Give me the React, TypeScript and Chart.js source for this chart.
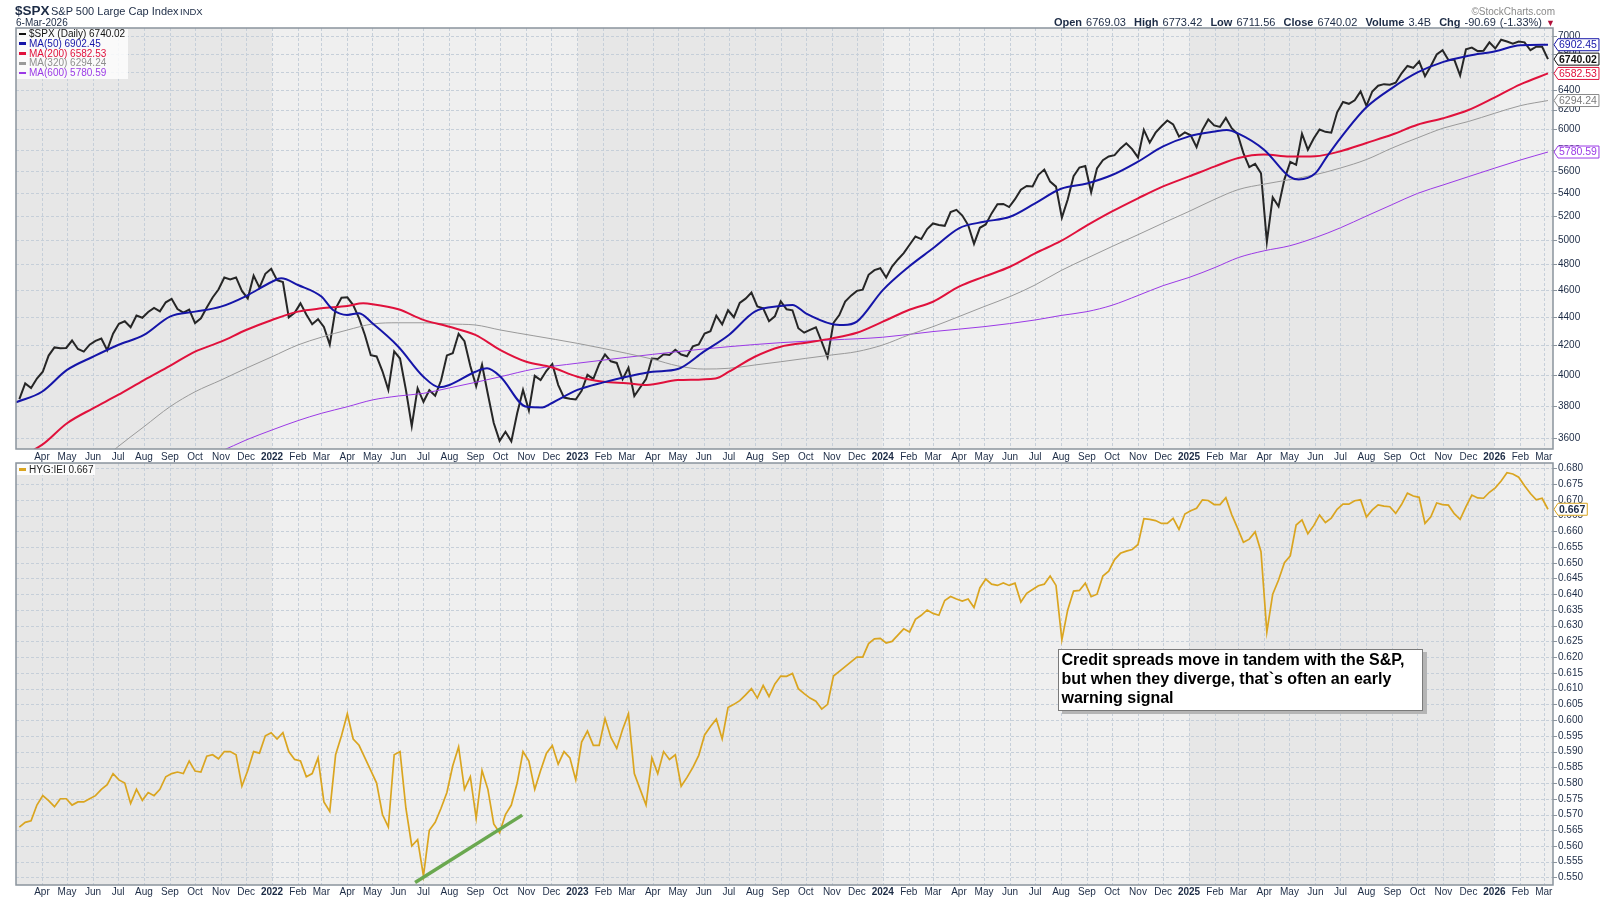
import React, { useEffect, useRef } from "react";
import { Chart, registerables } from "chart.js";

Chart.register(...registerables);

const FONT = '"Liberation Sans", Arial, Helvetica, sans-serif';
const NAVY = "#1c2b45";
const GRID_COLOR = "#c6cfd9";
const BORDER_COLOR = "#8b949d";
const BAND_COLORS = ["#e7e7e7", "#efefef"];

// ---------------- categories ----------------
const WEEK_DATES = [
  "2021-03-05","2021-03-12","2021-03-19","2021-03-26","2021-04-02","2021-04-09","2021-04-16","2021-04-23","2021-04-30","2021-05-07","2021-05-14","2021-05-21","2021-05-28","2021-06-04","2021-06-11","2021-06-18","2021-06-25","2021-07-02","2021-07-09","2021-07-16","2021-07-23","2021-07-30","2021-08-06","2021-08-13","2021-08-20","2021-08-27","2021-09-03","2021-09-10","2021-09-17","2021-09-24","2021-10-01","2021-10-08","2021-10-15","2021-10-22","2021-10-29","2021-11-05","2021-11-12","2021-11-19","2021-11-26","2021-12-03","2021-12-10","2021-12-17","2021-12-24","2021-12-31",
  "2022-01-07","2022-01-14","2022-01-21","2022-01-28","2022-02-04","2022-02-11","2022-02-18","2022-02-25","2022-03-04","2022-03-11","2022-03-18","2022-03-25","2022-04-01","2022-04-08","2022-04-15","2022-04-22","2022-04-29","2022-05-06","2022-05-13","2022-05-20","2022-05-27","2022-06-03","2022-06-10","2022-06-17","2022-06-24","2022-07-01","2022-07-08","2022-07-15","2022-07-22","2022-07-29","2022-08-05","2022-08-12","2022-08-19","2022-08-26","2022-09-02","2022-09-09","2022-09-16","2022-09-23","2022-09-30","2022-10-07","2022-10-14","2022-10-21","2022-10-28","2022-11-04","2022-11-11","2022-11-18","2022-11-25","2022-12-02","2022-12-09","2022-12-16","2022-12-23","2022-12-30",
  "2023-01-06","2023-01-13","2023-01-20","2023-01-27","2023-02-03","2023-02-10","2023-02-17","2023-02-24","2023-03-03","2023-03-10","2023-03-17","2023-03-24","2023-03-31","2023-04-07","2023-04-14","2023-04-21","2023-04-28","2023-05-05","2023-05-12","2023-05-19","2023-05-26","2023-06-02","2023-06-09","2023-06-16","2023-06-23","2023-06-30","2023-07-07","2023-07-14","2023-07-21","2023-07-28","2023-08-04","2023-08-11","2023-08-18","2023-08-25","2023-09-01","2023-09-08","2023-09-15","2023-09-22","2023-09-29","2023-10-06","2023-10-13","2023-10-20","2023-10-27","2023-11-03","2023-11-10","2023-11-17","2023-11-24","2023-12-01","2023-12-08","2023-12-15","2023-12-22","2023-12-29",
  "2024-01-05","2024-01-12","2024-01-19","2024-01-26","2024-02-02","2024-02-09","2024-02-16","2024-02-23","2024-03-01","2024-03-08","2024-03-15","2024-03-22","2024-03-29","2024-04-05","2024-04-12","2024-04-19","2024-04-26","2024-05-03","2024-05-10","2024-05-17","2024-05-24","2024-05-31","2024-06-07","2024-06-14","2024-06-21","2024-06-28","2024-07-05","2024-07-12","2024-07-19","2024-07-26","2024-08-02","2024-08-09","2024-08-16","2024-08-23","2024-08-30","2024-09-06","2024-09-13","2024-09-20","2024-09-27","2024-10-04","2024-10-11","2024-10-18","2024-10-25","2024-11-01","2024-11-08","2024-11-15","2024-11-22","2024-11-29","2024-12-06","2024-12-13","2024-12-20","2024-12-27",
  "2025-01-03","2025-01-10","2025-01-17","2025-01-24","2025-01-31","2025-02-07","2025-02-14","2025-02-21","2025-02-28","2025-03-07","2025-03-14","2025-03-21","2025-03-28","2025-04-04","2025-04-11","2025-04-18","2025-04-25","2025-05-02","2025-05-09","2025-05-16","2025-05-23","2025-05-30","2025-06-06","2025-06-13","2025-06-20","2025-06-27","2025-07-04","2025-07-11","2025-07-18","2025-07-25","2025-08-01","2025-08-08","2025-08-15","2025-08-22","2025-08-29","2025-09-05","2025-09-12","2025-09-19","2025-09-26","2025-10-03","2025-10-10","2025-10-17","2025-10-24","2025-10-31","2025-11-07","2025-11-14","2025-11-21","2025-11-28","2025-12-05","2025-12-12","2025-12-19","2025-12-26",
  "2026-01-02","2026-01-09","2026-01-16","2026-01-23","2026-01-30","2026-02-06","2026-02-13","2026-02-20","2026-02-27","2026-03-06"
];

// ---------------- series values ----------------
const SPX_CLOSE = [
  3842,3943,3913,3975,4020,4129,4185,4180,4181,4233,4174,4156,4204,4230,4247,4166,4281,4352,4370,4327,4412,4395,4437,4468,4442,4509,4535,4459,4433,4455,4357,4391,4471,4545,4605,4697,4682,4698,4595,4538,4712,4620,4726,4766,
  4677,4663,4398,4432,4501,4419,4349,4385,4329,4204,4463,4543,4546,4488,4393,4272,4132,4123,4023,3901,4158,4109,3901,3675,3912,3825,3899,3863,3962,4130,4145,4280,4228,4058,3924,4067,3873,3693,3586,3640,3583,3753,3901,3771,3993,3965,4026,4072,3934,3852,3845,3840,
  3895,3999,3973,4071,4136,4090,4079,3970,4046,3862,3917,3971,4109,4105,4138,4133,4169,4136,4124,4192,4205,4282,4299,4410,4348,4450,4399,4505,4536,4582,4478,4464,4370,4406,4516,4457,4450,4320,4288,4308,4327,4224,4117,4358,4415,4514,4559,4595,4604,4719,4755,4770,
  4697,4784,4840,4891,4959,5027,5006,5089,5137,5124,5117,5234,5254,5204,5123,4967,5100,5128,5223,5303,5305,5278,5347,5432,5465,5460,5567,5615,5505,5459,5186,5344,5554,5634,5648,5408,5626,5703,5738,5751,5815,5864,5808,5729,5996,5871,5969,6032,6090,6051,5931,5971,
  5942,5827,5997,6101,6041,6026,6115,6013,5955,5770,5639,5668,5581,4983,5363,5283,5525,5687,5660,5958,5803,5912,6000,5977,5968,6173,6279,6260,6297,6389,6238,6389,6450,6467,6460,6482,6584,6664,6644,6716,6553,6664,6792,6840,6730,6735,6560,6850,6870,6830,6835,6930,
  6860,6960,6940,6915,6940,6930,6840,6880,6880,6740.02
];

const HYG_IEI = [
  0.566,0.5675,0.568,0.573,0.576,0.5744,0.5725,0.575,0.575,0.573,0.574,0.574,0.575,0.576,0.578,0.5795,0.583,0.581,0.58,0.5735,0.578,0.5745,0.577,0.576,0.578,0.582,0.583,0.5835,0.583,0.587,0.5838,0.5835,0.5885,0.589,0.5877,0.59,0.59,0.589,0.579,0.584,0.59,0.5895,0.595,0.596,
  0.594,0.596,0.59,0.5875,0.587,0.582,0.583,0.588,0.574,0.571,0.589,0.595,0.602,0.594,0.592,0.588,0.584,0.58,0.57,0.566,0.589,0.59,0.572,0.56,0.562,0.5505,0.565,0.5675,0.572,0.577,0.5855,0.5915,0.578,0.582,0.5688,0.584,0.578,0.567,0.5642,0.57,0.573,0.58,0.59,0.587,0.578,0.584,0.5895,0.5919,0.586,0.59,0.588,0.581,
  0.593,0.5965,0.592,0.592,0.6005,0.5945,0.591,0.597,0.602,0.583,0.578,0.573,0.588,0.583,0.59,0.5875,0.589,0.579,0.5818,0.585,0.5888,0.5953,0.598,0.6003,0.594,0.604,0.605,0.6062,0.608,0.61,0.607,0.611,0.6075,0.6115,0.614,0.6139,0.6148,0.61,0.6084,0.607,0.606,0.6035,0.605,0.614,0.6155,0.617,0.6185,0.62,0.62,0.6243,0.6258,0.626,
  0.6245,0.625,0.627,0.629,0.628,0.632,0.6333,0.635,0.6339,0.6333,0.638,0.6393,0.6385,0.6378,0.6385,0.6358,0.642,0.6448,0.6432,0.6428,0.6436,0.6428,0.6435,0.6375,0.6403,0.6415,0.6427,0.6432,0.6458,0.6428,0.6255,0.635,0.641,0.6412,0.6435,0.6392,0.64,0.6458,0.6473,0.651,0.653,0.6537,0.6542,0.6558,0.664,0.6638,0.6634,0.6625,0.6625,0.6641,0.6606,0.6655,
  0.6665,0.6673,0.67,0.6698,0.6685,0.6685,0.6707,0.6653,0.661,0.6565,0.6575,0.6598,0.6535,0.628,0.64,0.6445,0.65,0.6522,0.662,0.6636,0.6592,0.6618,0.6652,0.6628,0.6642,0.667,0.6686,0.6686,0.6697,0.67,0.6645,0.6668,0.6684,0.668,0.6678,0.6657,0.6685,0.6721,0.6712,0.6708,0.6625,0.6646,0.669,0.6685,0.6683,0.6656,0.6638,0.6678,0.6715,0.6706,0.6705,0.6724,
  0.6738,0.676,0.6786,0.6782,0.6772,0.6745,0.672,0.67,0.6705,0.667
];

const MA50_DATES = ["2021-03-01","2021-04-01","2021-05-01","2021-06-01","2021-07-01","2021-08-01","2021-09-01","2021-10-01","2021-11-01","2021-12-01","2022-01-01","2022-01-12","2022-02-01","2022-03-01","2022-03-15","2022-04-01","2022-04-15","2022-05-01","2022-06-01","2022-07-01","2022-07-20","2022-08-01","2022-09-01","2022-09-15","2022-10-01","2022-11-01","2022-11-20","2022-12-01","2023-01-01","2023-02-01","2023-03-01","2023-04-01","2023-05-01","2023-06-01","2023-07-01","2023-08-01","2023-09-01","2023-09-15","2023-10-01","2023-11-01","2023-11-15","2023-12-01","2024-01-01","2024-02-01","2024-03-01","2024-04-01","2024-05-01","2024-06-01","2024-07-01","2024-08-01","2024-09-01","2024-10-01","2024-11-01","2024-12-01","2025-01-01","2025-02-01","2025-02-15","2025-03-01","2025-04-01","2025-05-01","2025-05-12","2025-06-01","2025-06-15","2025-07-01","2025-08-01","2025-09-01","2025-10-01","2025-11-01","2025-12-01","2026-01-01","2026-02-01","2026-03-06"];
const MA50_VALUES = [3822,3889,4032,4121,4202,4272,4404,4440,4477,4556,4665,4691,4640,4552,4452,4416,4428,4355,4190,3987,3918,3933,4020,4043,3987,3794,3790,3816,3901,3950,3987,4020,4038,4156,4272,4440,4481,4489,4428,4350,4343,4367,4601,4782,4930,5096,5151,5194,5311,5440,5488,5565,5690,5834,5932,5980,5995,5960,5801,5550,5525,5581,5739,5915,6224,6428,6593,6709,6778,6826,6896,6902.45];

const MA200_DATES = ["2021-03-01","2021-04-01","2021-05-01","2021-06-01","2021-07-01","2021-08-01","2021-09-01","2021-10-01","2021-11-01","2021-12-01","2022-01-01","2022-02-01","2022-03-01","2022-04-01","2022-04-20","2022-05-01","2022-06-01","2022-07-01","2022-08-01","2022-09-01","2022-10-01","2022-11-01","2022-12-01","2023-01-01","2023-02-01","2023-03-01","2023-03-25","2023-05-01","2023-06-15","2023-07-01","2023-08-01","2023-09-01","2023-10-01","2023-11-01","2023-12-01","2024-01-01","2024-02-01","2024-03-01","2024-04-01","2024-05-01","2024-06-01","2024-07-01","2024-08-01","2024-09-01","2024-10-01","2024-11-01","2024-12-01","2025-01-01","2025-02-01","2025-03-01","2025-04-01","2025-05-01","2025-06-01","2025-07-01","2025-08-01","2025-09-01","2025-10-01","2025-11-01","2025-12-01","2026-01-01","2026-02-01","2026-03-06"];
const MA200_VALUES = [3480,3562,3692,3784,3869,3965,4059,4156,4225,4307,4379,4440,4464,4481,4501,4495,4457,4380,4330,4272,4167,4087,4050,3987,3954,3944,3933,3965,3976,4020,4121,4190,4218,4248,4288,4367,4452,4513,4627,4704,4782,4889,4990,5120,5240,5355,5462,5552,5645,5724,5756,5737,5741,5788,5868,5950,6047,6113,6196,6325,6465,6582.53];

const MA320_DATES = ["2021-03-01","2021-06-01","2021-07-01","2021-08-01","2021-09-01","2021-10-01","2021-11-01","2021-12-01","2022-01-01","2022-02-01","2022-03-01","2022-04-01","2022-05-01","2022-06-01","2022-07-01","2022-08-01","2022-09-01","2022-10-01","2022-11-10","2023-01-01","2023-03-01","2023-04-01","2023-05-01","2023-06-01","2023-07-01","2023-08-01","2023-09-01","2023-10-01","2023-11-01","2023-12-01","2024-01-01","2024-02-01","2024-03-01","2024-04-01","2024-05-01","2024-06-01","2024-07-01","2024-08-01","2024-09-01","2024-10-01","2024-11-01","2024-12-01","2025-01-01","2025-02-01","2025-03-01","2025-04-01","2025-05-01","2025-06-01","2025-07-01","2025-08-01","2025-09-01","2025-10-01","2025-11-01","2025-12-01","2026-01-01","2026-02-01","2026-03-06"];
const MA320_VALUES = [3140,3430,3552,3671,3794,3889,3965,4043,4121,4202,4256,4307,4350,4359,4359,4350,4343,4307,4266,4213,4144,4104,4059,4038,4043,4065,4087,4110,4133,4156,4202,4272,4331,4404,4477,4552,4640,4752,4850,4945,5042,5140,5240,5347,5433,5482,5522,5568,5630,5709,5820,5917,6014,6080,6162,6241,6294.24];

const MA600_DATES = ["2021-03-01","2021-06-01","2021-09-01","2021-10-01","2021-11-01","2021-12-01","2022-01-01","2022-02-01","2022-03-01","2022-04-01","2022-05-01","2022-06-01","2022-07-01","2022-08-01","2022-09-01","2022-10-01","2022-11-10","2023-01-01","2023-03-01","2023-05-01","2023-07-01","2023-09-01","2023-11-01","2024-01-01","2024-03-01","2024-05-01","2024-07-01","2024-08-01","2024-09-01","2024-10-01","2024-11-01","2024-12-01","2025-01-01","2025-02-01","2025-03-01","2025-04-01","2025-05-01","2025-06-01","2025-07-01","2025-08-01","2025-09-01","2025-10-01","2025-11-01","2025-12-01","2026-01-01","2026-02-01","2026-03-06"];
const MA600_VALUES = [3150,3290,3420,3470,3525,3591,3651,3708,3753,3794,3837,3862,3879,3914,3950,3987,4038,4077,4117,4156,4190,4218,4237,4256,4296,4331,4379,4412,4440,4487,4560,4635,4698,4776,4855,4910,4950,5018,5100,5200,5300,5398,5475,5550,5628,5705,5780.59];

const TREND_DATES = ["2022-06-21", "2022-10-27"];
const TREND_VALUES = [0.5484, 0.5698];

// ---------------- tick labels ----------------
const MONTH_NAMES = ["Jan","Feb","Mar","Apr","May","Jun","Jul","Aug","Sep","Oct","Nov","Dec"];
const TICK_YEARS = [2021, 2022, 2023, 2024, 2025, 2026];
const YEAR_EDGES = ["2021-01-01","2022-01-01","2023-01-01","2024-01-01","2025-01-01","2026-01-01","2027-01-01"];
const SPX_TICKS = [3600,3800,4000,4200,4400,4600,4800,5000,5200,5400,5600,5800,6000,6200,6400,6600,6800,7000];
const HYG_TICKS = [0.55,0.555,0.56,0.565,0.57,0.575,0.58,0.585,0.59,0.595,0.6,0.605,0.61,0.615,0.62,0.625,0.63,0.635,0.64,0.645,0.65,0.655,0.66,0.665,0.67,0.675,0.68];

const DAY = 86400000;
const dayOf = (s: string) => Date.UTC(+s.slice(0, 4), +s.slice(5, 7) - 1, +s.slice(8, 10)) / DAY;
const X_MIN = dayOf("2021-03-01");
const X_MAX = dayOf("2026-03-12");

const MONTH_TICKS: { value: number; label: string; year: boolean }[] = [];
TICK_YEARS.forEach((yr) =>
  MONTH_NAMES.forEach((nm, m) => {
    const v = Date.UTC(yr, m, 1) / DAY;
    if (v > X_MIN && v < X_MAX) MONTH_TICKS.push({ value: v, label: m === 0 ? String(yr) : nm, year: m === 0 });
  })
);

const pts = (dates: string[], vals: number[]) => dates.map((d, i) => ({ x: dayOf(d), y: vals[i] }));
const last = (a: number[]) => a[a.length - 1];

const C_SPX = "#262626";
const C_MA50 = "#1515a8";
const C_MA200 = "#e0113c";
const C_MA320 = "#9a9a9a";
const C_MA600 = "#9b3ae6";
const C_HYG = "#daa520";
const C_TREND = "#6aa84f";

function drawTag(ctx: CanvasRenderingContext2D, xTip: number, y: number, text: string, border: string, color: string, bold: boolean) {
  ctx.font = `${bold ? "bold " : ""}10.5px ${FONT}`;
  const w = ctx.measureText(text).width;
  const h = 12;
  const x1 = xTip + 4;
  const x2 = x1 + w + 3;
  ctx.beginPath();
  ctx.moveTo(xTip, y);
  ctx.lineTo(x1, y - h / 2);
  ctx.lineTo(x2, y - h / 2);
  ctx.lineTo(x2, y + h / 2);
  ctx.lineTo(x1, y + h / 2);
  ctx.closePath();
  ctx.fillStyle = "#ffffff";
  ctx.fill();
  ctx.lineWidth = 1;
  ctx.strokeStyle = border;
  ctx.stroke();
  ctx.fillStyle = color;
  ctx.textAlign = "left";
  ctx.textBaseline = "middle";
  ctx.fillText(text, x1 + 1, y + 0.5);
}

const panelPlugin = {
  id: "panel",
  beforeDraw(chart: any) {
    const { ctx, chartArea: a } = chart;
    const xs = chart.scales.x;
    const ys = chart.scales.y;
    ctx.save();
    for (let k = 0; k < YEAR_EDGES.length - 1; k++) {
      const x0 = Math.max(a.left, xs.getPixelForValue(dayOf(YEAR_EDGES[k])));
      const x1 = Math.min(a.right, xs.getPixelForValue(dayOf(YEAR_EDGES[k + 1])));
      if (x1 > x0) {
        ctx.fillStyle = BAND_COLORS[k % 2];
        ctx.fillRect(x0, a.top, x1 - x0, a.bottom - a.top);
      }
    }
    ctx.strokeStyle = GRID_COLOR;
    ctx.lineWidth = 1;
    ctx.setLineDash([3, 2]);
    xs.ticks.forEach((t: any) => {
      const px = Math.round(xs.getPixelForValue(t.value)) + 0.5;
      ctx.beginPath();
      ctx.moveTo(px, a.top);
      ctx.lineTo(px, a.bottom);
      ctx.stroke();
    });
    ys.ticks.forEach((t: any) => {
      const py = Math.round(ys.getPixelForValue(t.value)) + 0.5;
      ctx.beginPath();
      ctx.moveTo(a.left, py);
      ctx.lineTo(a.right, py);
      ctx.stroke();
    });
    ctx.setLineDash([]);
    ctx.strokeStyle = BORDER_COLOR;
    ys.ticks.forEach((t: any) => {
      const py = Math.round(ys.getPixelForValue(t.value)) + 0.5;
      ctx.beginPath();
      ctx.moveTo(a.right, py);
      ctx.lineTo(a.right + 4, py);
      ctx.stroke();
    });
    ctx.restore();
  },
  afterDraw(chart: any, _args: any, opts: any) {
    const { ctx, chartArea: a } = chart;
    const ys = chart.scales.y;
    ctx.save();
    ctx.strokeStyle = BORDER_COLOR;
    ctx.lineWidth = 1.5;
    ctx.strokeRect(a.left, a.top, a.right - a.left, a.bottom - a.top);
    (opts.tags || []).forEach((tg: any) => {
      drawTag(ctx, a.right + 1, ys.getPixelForValue(tg.value), tg.text, tg.border, tg.color, tg.bold);
    });
    ctx.restore();
  },
};

const xAxis = (height: number, padding: number) => ({
  type: "linear",
  min: X_MIN,
  max: X_MAX,
  grid: { display: false, drawTicks: false },
  border: { display: false },
  afterBuildTicks: (s: any) => {
    s.ticks = MONTH_TICKS.map((t) => ({ value: t.value }));
  },
  afterFit: (s: any) => {
    s.height = height;
  },
  ticks: {
    autoSkip: false,
    maxRotation: 0,
    minRotation: 0,
    padding,
    color: NAVY,
    font: (ctx: any) => ({ family: FONT, size: 10, weight: MONTH_TICKS[ctx.index] && MONTH_TICKS[ctx.index].year ? "bold" : "normal" }),
    callback: (_v: any, i: number) => (MONTH_TICKS[i] ? MONTH_TICKS[i].label : ""),
  },
});

const lineDs = (label: string, data: any[], color: string, width: number, order: number, smooth: boolean) => ({
  label,
  data,
  borderColor: color,
  backgroundColor: color,
  borderWidth: width,
  pointRadius: 0,
  pointHoverRadius: 0,
  fill: false,
  order,
  tension: 0,
  cubicInterpolationMode: smooth ? "monotone" : "default",
});

export default function App() {
  const topRef = useRef<HTMLCanvasElement>(null);
  const botRef = useRef<HTMLCanvasElement>(null);

  useEffect(() => {
    Chart.defaults.font.family = FONT;
    const top = new Chart(topRef.current as HTMLCanvasElement, {
      type: "line",
      data: {
        datasets: [
          lineDs("MA(50)", pts(MA50_DATES, MA50_VALUES), C_MA50, 2, 0, true),
          lineDs("MA(200)", pts(MA200_DATES, MA200_VALUES), C_MA200, 2, 1, true),
          lineDs("MA(320)", pts(MA320_DATES, MA320_VALUES), C_MA320, 1, 2, true),
          lineDs("MA(600)", pts(MA600_DATES, MA600_VALUES), C_MA600, 1, 3, true),
          lineDs("$SPX", pts(WEEK_DATES, SPX_CLOSE), C_SPX, 2, 4, false),
        ] as any,
      },
      options: {
        responsive: false,
        animation: false,
        events: [],
        layout: { padding: { left: 16, top: 28, right: 0, bottom: 0 } },
        plugins: {
          legend: { display: false },
          tooltip: { enabled: false },
          panel: {
            tags: [
              { value: last(MA50_VALUES), text: last(MA50_VALUES).toFixed(2), border: C_MA50, color: C_MA50, bold: false },
              { value: last(SPX_CLOSE), text: last(SPX_CLOSE).toFixed(2), border: "#111", color: "#111", bold: true },
              { value: last(MA200_VALUES), text: last(MA200_VALUES).toFixed(2), border: C_MA200, color: C_MA200, bold: false },
              { value: last(MA320_VALUES), text: last(MA320_VALUES).toFixed(2), border: "#8a8a8a", color: "#7a7a7a", bold: false },
              { value: last(MA600_VALUES), text: last(MA600_VALUES).toFixed(2), border: C_MA600, color: C_MA600, bold: false },
            ],
          },
        } as any,
        scales: {
          x: xAxis(21, 2) as any,
          y: {
            type: "logarithmic",
            position: "right",
            min: 3538,
            max: 7096,
            grid: { display: false, drawTicks: false },
            border: { display: false },
            afterBuildTicks: (s: any) => {
              s.ticks = SPX_TICKS.map((v) => ({ value: v }));
            },
            afterFit: (s: any) => {
              s.width = 47;
            },
            ticks: {
              autoSkip: false,
              padding: 5,
              color: NAVY,
              font: { family: FONT, size: 10 },
              callback: (v: any) => String(v),
            },
          } as any,
        },
      },
      plugins: [panelPlugin],
    });

    const bot = new Chart(botRef.current as HTMLCanvasElement, {
      type: "line",
      data: {
        datasets: [
          lineDs("trend", pts(TREND_DATES, TREND_VALUES), C_TREND, 3.5, 0, false),
          lineDs("HYG:IEI", pts(WEEK_DATES, HYG_IEI), C_HYG, 1.7, 1, false),
        ] as any,
      },
      options: {
        responsive: false,
        animation: false,
        events: [],
        layout: { padding: { left: 16, top: 14, right: 0, bottom: 0 } },
        plugins: {
          legend: { display: false },
          tooltip: { enabled: false },
          panel: {
            tags: [{ value: last(HYG_IEI), text: last(HYG_IEI).toFixed(3), border: C_HYG, color: NAVY, bold: true }],
          },
        } as any,
        scales: {
          x: xAxis(15, 1) as any,
          y: {
            type: "linear",
            position: "right",
            min: 0.5476,
            max: 0.6817,
            grid: { display: false, drawTicks: false },
            border: { display: false },
            afterBuildTicks: (s: any) => {
              s.ticks = HYG_TICKS.map((v) => ({ value: v }));
            },
            afterFit: (s: any) => {
              s.width = 47;
            },
            ticks: {
              autoSkip: false,
              padding: 5,
              color: NAVY,
              font: { family: FONT, size: 10 },
              callback: (v: any) => Number(v).toFixed(3),
            },
          } as any,
        },
      },
      plugins: [panelPlugin],
    });

    return () => {
      top.destroy();
      bot.destroy();
    };
  }, []);

  const legendRows = [
    { color: "#111", swatch: "#111", text: `$SPX (Daily) ${last(SPX_CLOSE).toFixed(2)}` },
    { color: C_MA50, swatch: C_MA50, text: `MA(50) ${last(MA50_VALUES).toFixed(2)}` },
    { color: C_MA200, swatch: C_MA200, text: `MA(200) ${last(MA200_VALUES).toFixed(2)}` },
    { color: "#8f8f8f", swatch: C_MA320, text: `MA(320) ${last(MA320_VALUES).toFixed(2)}` },
    { color: C_MA600, swatch: C_MA600, text: `MA(600) ${last(MA600_VALUES).toFixed(2)}` },
  ];

  const abs = (s: any) => ({ position: "absolute", whiteSpace: "nowrap", ...s } as React.CSSProperties);

  return (
    <div style={{ position: "absolute", left: 0, top: 0, width: 1600, height: 900, background: "#ffffff", overflow: "hidden", fontFamily: FONT }}>
      <canvas ref={topRef} width={1600} height={470} style={{ position: "absolute", left: 0, top: 0, width: 1600, height: 470 }} />
      <canvas ref={botRef} width={1600} height={451} style={{ position: "absolute", left: 0, top: 449, width: 1600, height: 451 }} />

      {/* header */}
      <div style={abs({ left: 15, top: 3.6, fontSize: 13.5, lineHeight: "13.5px", fontWeight: "bold", color: NAVY })}>$SPX</div>
      <div style={abs({ left: 51, top: 5.7, fontSize: 11, lineHeight: "11px", color: NAVY })}>S&amp;P 500 Large Cap Index</div>
      <div style={abs({ left: 180, top: 7, fontSize: 9.5, lineHeight: "9.5px", color: NAVY })}>INDX</div>
      <div style={abs({ left: 16, top: 17.5, fontSize: 10, lineHeight: "10px", color: NAVY })}>6-Mar-2026</div>
      <div style={abs({ right: 45, top: 6.5, fontSize: 10, lineHeight: "10px", color: "#8a8a8a" })}>©StockCharts.com</div>
      <div style={abs({ right: 45, top: 17.4, fontSize: 11, lineHeight: "11px", color: NAVY, wordSpacing: "1px" })}>
        <b>Open</b> 6769.03&nbsp; <b>High</b> 6773.42&nbsp; <b>Low</b> 6711.56&nbsp; <b>Close</b> 6740.02&nbsp; <b>Volume</b> 3.4B&nbsp; <b>Chg</b> -90.69 (-1.33%) <span style={{ color: "#b0103a", fontSize: 9 }}>▼</span>
      </div>

      {/* top legend */}
      <div style={abs({ left: 17, top: 29, background: "rgba(255,255,255,0.8)", padding: "0 3px 1px 2px", fontSize: 10, lineHeight: "9.8px" })}>
        {legendRows.map((r) => (
          <div key={r.text} style={{ display: "flex", alignItems: "center", height: 9.8, color: r.color }}>
            <span style={{ display: "inline-block", width: 7, height: 2.5, background: r.swatch, marginRight: 3 }} />
            {r.text}
          </div>
        ))}
      </div>

      {/* bottom legend */}
      <div style={abs({ left: 17, top: 464, background: "rgba(255,255,255,0.85)", padding: "0 2px 0 2px", fontSize: 10, lineHeight: "11px", color: "#222" })}>
        <div style={{ display: "flex", alignItems: "center", height: 11 }}>
          <span style={{ display: "inline-block", width: 7, height: 2.5, background: C_HYG, marginRight: 3 }} />
          {`HYG:IEI ${last(HYG_IEI).toFixed(3)}`}
        </div>
      </div>

      {/* annotation */}
      <div
        style={abs({
          left: 1058,
          top: 649,
          width: 365,
          height: 62,
          boxSizing: "border-box",
          border: "1px solid #7a7a7a",
          background: "#ffffff",
          boxShadow: "4px 3px 0 #b5b5b5",
          padding: "0 0 0 2.5px",
          fontSize: 16,
          lineHeight: "19px",
          fontWeight: "bold",
          color: "#000",
        })}
      >
        Credit spreads move in tandem with the S&amp;P,
        <br />
        but when they diverge, that`s often an early
        <br />
        warning signal
      </div>
    </div>
  );
}
